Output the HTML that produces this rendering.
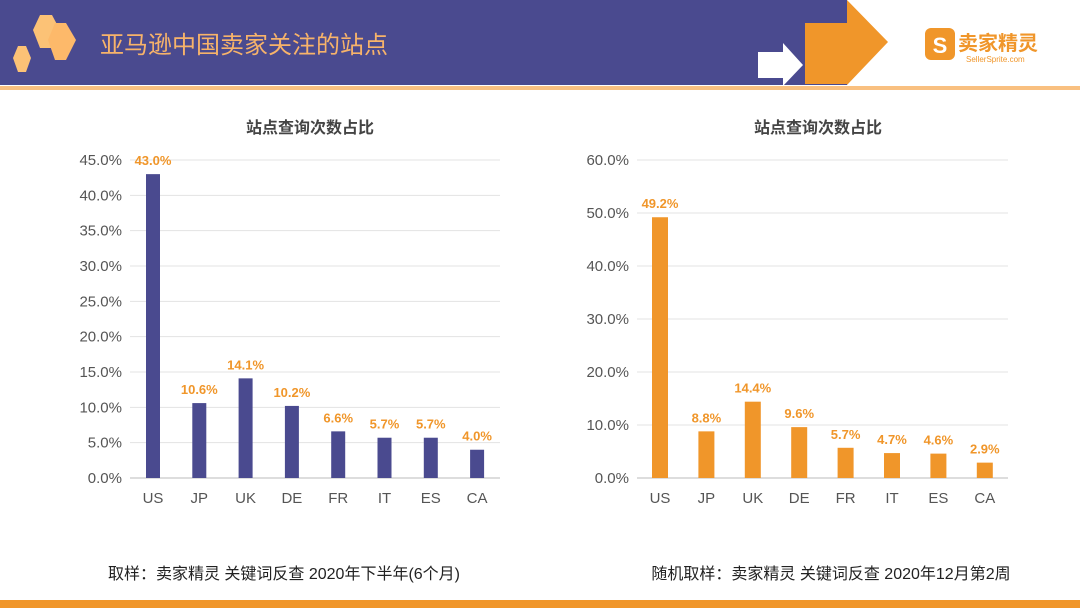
<!DOCTYPE html>
<html><head><meta charset="utf-8"><style>
body{margin:0;width:1080px;height:608px;overflow:hidden;background:#fff;font-family:"Liberation Sans","Noto Sans CJK SC",sans-serif}
svg{display:block}
</style></head><body>
<svg id="s" width="1080" height="608">
<rect x="0" y="0" width="847" height="85" fill="#4a4a8f"/>
<rect x="0" y="86" width="1080" height="4" fill="#f9c080"/>
<rect x="0" y="600" width="1080" height="8" fill="#f0962a"/>
<g>
<polygon points="40,15 52,15 60,30 52,48 40,48 33,30" fill="#fcc276"/>
<polygon points="55,23 66,23 76,40 66,60 55,60 48,40" fill="#fdb96a"/>
<polygon points="18,46 26,46 31,58 26,72 18,72 13,58" fill="#fcc276"/>
</g>
<text x="100" y="53" font-size="24" fill="#f7b36a">亚马逊中国卖家关注的站点</text>
<g>
<polygon points="758,52 783,52 783,43 803,65 783,86 783,78 758,78" fill="#fff"/>
<polygon points="805,23 847,23 847,0 888,42 847,85 847,84 805,84" fill="#f0962a"/>
</g>
<g>
<rect x="925" y="28" width="30" height="32" rx="6" fill="#f0962a"/>
<text x="940" y="53" font-size="22" font-weight="bold" fill="#fff" text-anchor="middle">S</text>
<text x="958" y="50" font-size="20" font-weight="bold" fill="#f0962a">卖家精灵</text>
<text x="966" y="62" font-size="8" fill="#f0962a">SellerSprite.com</text>
</g>
</svg>
<script>
const cats=["US","JP","UK","DE","FR","IT","ES","CA"];
const leftVals=[43.0,10.6,14.1,10.2,6.6,5.7,5.7,4.0];
const rightVals=[49.2,8.8,14.4,9.6,5.7,4.7,4.6,2.9];
const leftTicks=[0,5,10,15,20,25,30,35,40,45];
const rightTicks=[0,10,20,30,40,50,60];
const NS="http://www.w3.org/2000/svg",svg=document.getElementById('s');
function mk(t,a,txt){const e=document.createElementNS(NS,t);for(const k in a)e.setAttribute(k,a[k]);if(txt!=null)e.textContent=txt;svg.appendChild(e);return e;}
function chart(cfg){
 const y=v=>cfg.y0-(v/cfg.max)*(cfg.y0-cfg.y1);
 const x=i=>cfg.x0+i*cfg.step;
 let t=mk('text',{x:cfg.tx,y:133,'font-size':16,'font-weight':'bold',fill:'#444','text-anchor':'middle'},'站点查询次数占比');
 
 
 cfg.ticks.forEach(v=>{
  let l=mk('line',{x1:cfg.gx0,x2:cfg.gx1,y1:y(v),y2:y(v),stroke:v===0?'#bbb':'#e3e3e3'});
  
  
  let tt=mk('text',{x:cfg.gx0-8,y:y(v)+5,'font-size':15,fill:'#555','text-anchor':'end'},v.toFixed(1)+'%');
  
  
 });
 cfg.vals.forEach((v,i)=>{
  let r=mk('rect',{x:x(i)-cfg.bw/2,y:y(v),width:cfg.bw,height:cfg.y0-y(v),fill:cfg.color});
  
  
  let lb=mk('text',{x:x(i),y:y(v)-9,'font-size':13,'font-weight':'bold',fill:'#f0962a','text-anchor':'middle'},v.toFixed(1)+'%');
  
  
  let c=mk('text',{x:x(i),y:503,'font-size':15,fill:'#555','text-anchor':'middle'},cats[i]);
  
  
 });
 let n=mk('text',{x:cfg.nx,y:579,'font-size':16,fill:'#222','text-anchor':'middle'},cfg.note);
 
 
}
chart({name:'left-chart',vals:leftVals,ticks:leftTicks,max:45,y0:478,y1:160,x0:153,step:46.3,bw:14,gx0:130,gx1:500,tx:310,nx:284,color:'#4a4a8f',note:'取样：卖家精灵 关键词反查  2020年下半年(6个月)'});
chart({name:'right-chart',vals:rightVals,ticks:rightTicks,max:60,y0:478,y1:160,x0:660,step:46.4,bw:16,gx0:637,gx1:1008,tx:818,nx:831,color:'#f0962a',note:'随机取样：卖家精灵 关键词反查  2020年12月第2周'});
</script>
</body></html>
